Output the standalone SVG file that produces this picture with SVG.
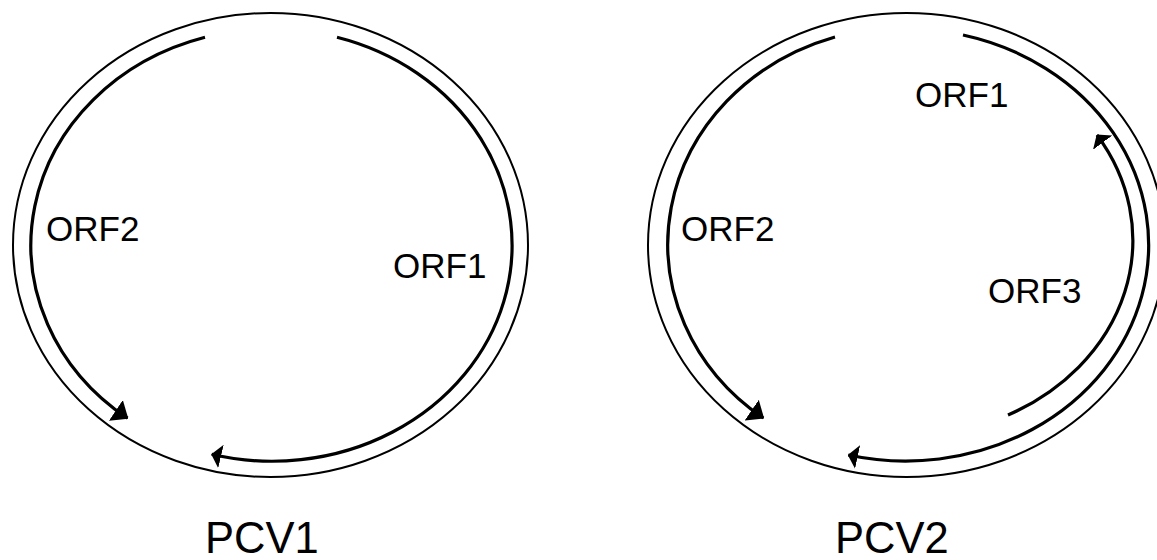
<svg xmlns="http://www.w3.org/2000/svg" width="1157" height="560" viewBox="0 0 1157 560">
<style>
.outer{fill:none;stroke:#000;stroke-width:2}
.orf{fill:none;stroke:#000;stroke-width:3.2}
.lbl{font-family:"Liberation Sans",Arial,sans-serif;font-size:35px;fill:#000}
.title{font-family:"Liberation Sans",Arial,sans-serif;font-size:43.5px;fill:#000}
</style>
<defs>
<marker id="big" markerUnits="userSpaceOnUse" viewBox="0 0 15 25" refX="14" refY="12.5" markerWidth="15" markerHeight="25" orient="auto">
<path d="M0,0 L15,12.5 L0,25 z" fill="#000"/>
</marker>
<marker id="small" markerUnits="userSpaceOnUse" viewBox="0 0 10 24" refX="9.5" refY="12" markerWidth="10" markerHeight="24" orient="auto">
<path d="M0,0 L10,12 L0,24 z" fill="#000"/>
</marker>
</defs>
<rect width="1157" height="560" fill="#fff"/>
<g id="pcv1">
<ellipse class="outer" cx="270.5" cy="245" rx="257.5" ry="232"/>
<text class="title" x="205" y="553">PCV1</text>
</g>
<g id="pcv1-orf2">
<text class="lbl" x="46" y="241">ORF2</text>
</g>
<g id="pcv1-orf1">
<text class="lbl" x="393" y="278">ORF1</text>
</g>
<g id="pcv2">
<ellipse class="outer" cx="906.5" cy="245" rx="258.5" ry="232"/>
<text class="title" x="835" y="553">PCV2</text>
</g>
<g id="pcv2-orf2">
<text class="lbl" x="681" y="241">ORF2</text>
</g>
<g id="pcv2-orf1">
<text class="lbl" x="915" y="107">ORF1</text>
</g>
<g id="pcv2-orf3">
<text class="lbl" x="988" y="303">ORF3</text>
</g>
<g id="connectors">
<path class="orf" d="M205,37.3 A240,216 0 0,0 127.5,418.2" marker-end="url(#big)"/>
<path class="orf" d="M337,37.3 A240,216 0 0,1 211.7,454.3" marker-end="url(#small)"/>
<path class="orf" d="M835,37 A238,217 0 0,0 763.3,418" marker-end="url(#big)"/>
<path class="orf" d="M963,35 A243,216 0 0,1 848.3,455" marker-end="url(#small)"/>
<path class="orf" d="M1008,415 A227,195.5 0 0,0 1097,135" marker-end="url(#small)"/>
</g>
</svg>
